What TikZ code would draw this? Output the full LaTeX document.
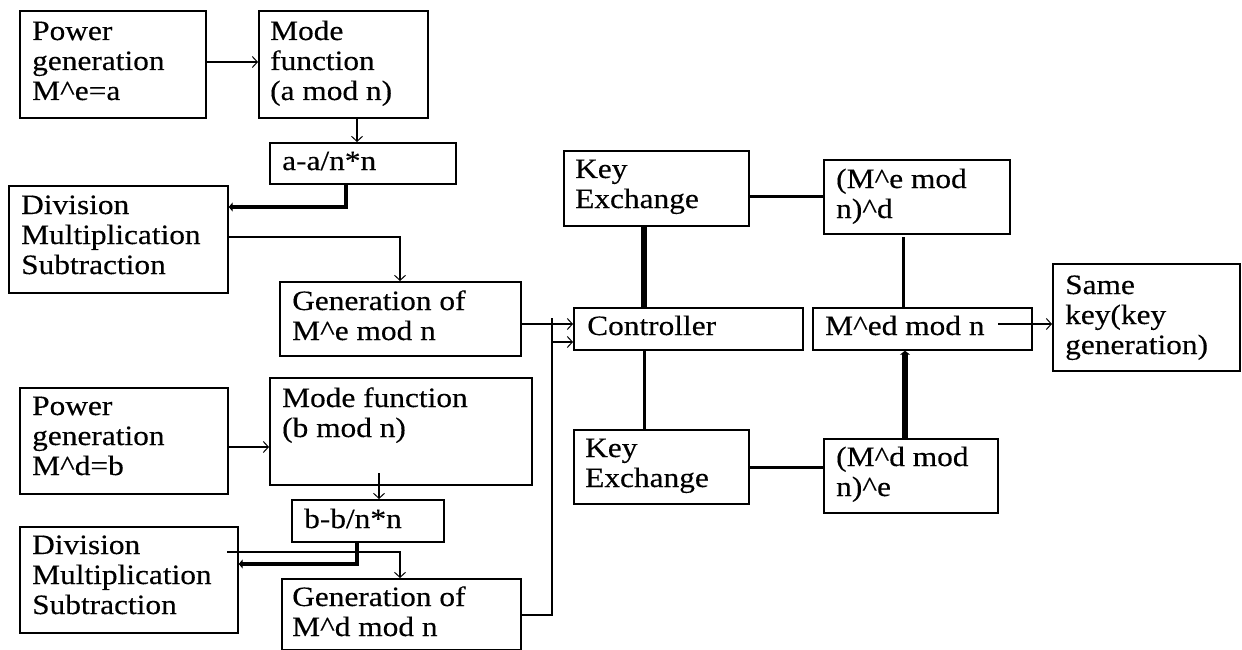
\documentclass[tikz,border=0pt]{standalone}
\usepackage{fontspec}
\setmainfont{Liberation Serif}[FakeStretch=1.12,FakeBold=0.3]
\usetikzlibrary{arrows.meta}
\newcommand\mybx[5]{\node[box, minimum width={#3pt-#1pt}, minimum height={#4pt-#2pt}] (#5) at (#1,#2) {};}
\newcommand\ca{\textasciicircum}
\newcommand\tl[1]{\begin{tabular}[t]{@{}l@{}}#1\end{tabular}}
\begin{document}
\begin{tikzpicture}[x=1pt,y=-1pt,
  box/.style={draw, line width=1.7pt, inner sep=0pt, anchor=north west},
  txt/.style={anchor=base west, inner sep=0pt, font=\fontsize{28}{30}\selectfont},
  thinarr/.style={line width=1.1pt, -{Straight Barb[length=5pt,width=11pt,line width=1pt]}},
  thickarr/.style={line width=4pt, -{Triangle[length=4pt,width=9pt]}},
  heavyarr/.style={line width=5.5pt, -{Triangle[length=4pt,width=10pt]}},
  medline/.style={line width=3pt},
  heavyline/.style={line width=5.5pt}]
\useasboundingbox (0,0) rectangle (1242,650);
% boxes
\mybx{19}{10}{205}{117}{pg1}
\mybx{258}{10}{427}{117}{mod1}
\mybx{269}{142}{455}{183}{aa}
\mybx{8}{185}{227}{292}{div1}
\mybx{279}{281}{520}{355}{gen1}
\mybx{19}{387}{227}{493}{pg2}
\mybx{269}{377}{531}{484}{mod2}
\mybx{291}{499}{443}{541}{bb}
\mybx{19}{526}{237}{632}{div2}
\mybx{281}{578}{520}{649}{gen2}
\mybx{563}{150}{748}{225}{ke1}
\mybx{573}{307}{802}{349}{ctl}
\mybx{823}{159}{1009}{233}{med}
\mybx{812}{307}{1031}{349}{medn}
\mybx{1052}{263}{1239}{370}{same}
\mybx{573}{429}{748}{503}{ke2}
\mybx{823}{438}{997}{512}{mde}
% texts
\node[txt] (tpg1) at (32,40) {\tl{Power\\generation\\M\ca e=a}};
\node[txt] (tmod1) at (270,40) {\tl{Mode\\function\\(a mod n)}};
\node[txt] (taa) at (282,170) {a-a/n*n};
\node[txt] (tdiv1) at (21,214) {\tl{Division\\Multiplication\\Subtraction}};
\node[txt] (tgen1) at (292,310) {\tl{Generation of\\M\ca e mod n}};
\node[txt] (tpg2) at (32,415) {\tl{Power\\generation\\M\ca d=b}};
\node[txt] (tmod2) at (282,407) {\tl{Mode function\\(b mod n)}};
\node[txt] (tbb) at (304,528) {b-b/n*n};
\node[txt] (tdiv2) at (32,554) {\tl{Division\\Multiplication\\Subtraction}};
\node[txt] (tgen2) at (292,606) {\tl{Generation of\\M\ca d mod n}};
\node[txt] (tke1) at (575,178) {\tl{Key\\Exchange}};
\node[txt] (tctl) at (587,335) {Controller};
\node[txt] (tmed) at (836,188) {\tl{(M\ca e mod\\n)\ca d}};
\node[txt] (tmedn) at (825,335) {M\ca ed mod n};
\node[txt] (tsame) at (1065,294) {\tl{Same\\key(key\\generation)}};
\node[txt] (tke2) at (585,457) {\tl{Key\\Exchange}};
\node[txt] (tmde) at (836,466) {\tl{(M\ca d mod\\n)\ca e}};
% helper coordinates
\coordinate (j1) at (552,342);
\coordinate (j1top) at (552,318);
\coordinate (s1) at (227,552);
\coordinate (s2) at (379,473);
\coordinate (s3) at (998,324);
\coordinate (s4) at (903,237);
% connectors
\draw[thinarr] (pg1.east |- 0,62) -- (mod1.west |- 0,62);
\draw[thinarr] (mod1.south -| 357,0) -- (aa.north -| 357,0);
\draw[thickarr] (aa.south -| 346,0) |- (div1.east |- 0,207);
\draw[thinarr] (div1.east |- 0,237) -| (gen1.north -| 400,0);
\draw[thinarr] (gen1.east |- 0,324) -- (ctl.west |- 0,324);
\draw[thinarr] (gen2.east |- 0,615) -| (j1) -- (ctl.west |- j1);
\draw[line width=1.1pt] (j1) -- (j1top);
\draw[heavyline] (ke1.south -| 644,0) -- (ctl.north -| 644,0);
\draw[medline] (ctl.south -| 644,0) -- (ke2.north -| 644,0);
\draw[medline] (ke1.east |- 0,196) -- (med.west |- 0,196);
\draw[medline] (s4) -- (medn.north -| s4);
\draw[heavyarr] (mde.north -| 905,0) -- (medn.south -| 905,0);
\draw[thinarr] (s3) -- (same.west |- s3);
\draw[medline] (ke2.east |- 0,467) -- (mde.west |- 0,467);
\draw[thickarr] (bb.south -| 357,0) |- (div2.east |- 0,564);
\draw[thinarr] (s1) -| (gen2.north -| 400,0);
\draw[thinarr] (s2) -- (bb.north -| s2);
\draw[thinarr] (pg2.east |- 0,447) -- (mod2.west |- 0,447);
\end{tikzpicture}
\end{document}
